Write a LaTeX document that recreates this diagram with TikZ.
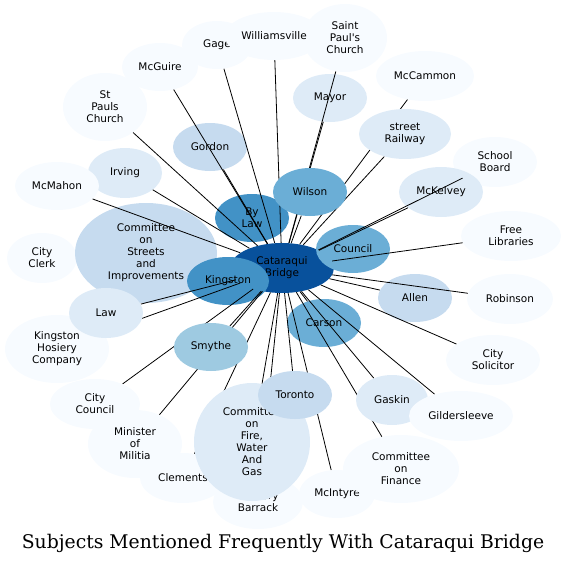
\documentclass[tikz,border=0pt]{standalone}
\usepackage{fontspec}
\setmainfont{DejaVu Serif}
\newfontfamily\labelfont{DejaVu Sans}
\usetikzlibrary{shapes.geometric}
\definecolor{blue1}{HTML}{F7FBFF}
\definecolor{blue2}{HTML}{DEEBF7}
\definecolor{blue3}{HTML}{C6DBEF}
\definecolor{blue4}{HTML}{9ECAE1}
\definecolor{blue5}{HTML}{6BAED6}
\definecolor{blue6}{HTML}{4292C6}
\definecolor{blue7}{HTML}{08519C}
\pgfdeclarelayer{edgelow}
\pgfdeclarelayer{nodelow}
\pgfdeclarelayer{nodetop}
\pgfsetlayers{edgelow,nodelow,main,nodetop}
\tikzstyle{topic} = [ellipse, inner sep=0pt, align=center, fill=blue1, font=\labelfont\fontsize{10.5}{12}\selectfont, minimum width=74pt, minimum height=48pt]
\tikzstyle{link} = [black, line width=0.8pt]

\begin{document}
\begin{tikzpicture}[x=1pt, y=-1pt]
  \useasboundingbox (0,0) rectangle (566,565);
  \begin{pgfonlayer}{nodelow}
    \node[topic] (cityclerk) at (42,258) [minimum width=70pt, minimum height=50pt] {City\\Clerk};
    \node[topic, fill=blue3] (streets) at (146,253) [minimum width=142pt, minimum height=100pt] {Committee\\on\\Streets\\and\\Improvements};
    \node[topic, fill=blue7] (bridge) at (282,268) [minimum width=104pt, minimum height=50pt] {Cataraqui\\Bridge};
    \node[topic, fill=blue6] (kingston) at (228,281) [minimum width=82pt] {Kingston};
    \node[topic, fill=blue5] (council) at (353,249) {Council};
    \node[topic, fill=blue6] (bylaw) at (252,218) {By\\Law};
    \node[topic, fill=blue2] (mayor) at (330,98) {Mayor};
    \node[topic] (schoolboard) at (495,162) [minimum width=84pt, minimum height=50pt] {School\\Board};
    \node[topic, fill=blue2] (mckelvey) at (441,192) [minimum width=84pt, minimum height=50pt] {McKelvey};
    \node[topic, fill=blue3] (gordon) at (210,147) {Gordon};
    \node[topic, fill=blue5] (carson) at (324,323) {Carson};
    \node[topic, fill=blue3] (allen) at (415,298) {Allen};
    \node[topic, fill=blue2] (irving) at (125,173) [minimum height=50pt] {Irving};
    \node[topic] (mcmahon) at (57,186) [minimum width=84pt] {McMahon};
    \node[topic] (stpauls) at (105,107) [minimum width=84pt, minimum height=68pt] {St\\Pauls\\Church};
    \node[topic] (mcguire) at (160,67) [minimum width=76pt] {McGuire};
    \node[topic] (gage) at (217,45) [minimum width=70pt] {Gage};
    \node[topic] (saintpauls) at (345,38) [minimum width=84pt, minimum height=68pt] {Saint\\Paul's\\Church};
    \node[topic] (williamsville) at (274,36) [minimum width=98pt] {Williamsville};
    \node[topic] (mccammon) at (425,76) [minimum width=98pt, minimum height=50pt] {McCammon};
    \node[topic] (libraries) at (511,236) [minimum width=100pt, minimum height=50pt] {Free\\Libraries};
    \node[topic] (robinson) at (510,299) [minimum width=86pt, minimum height=50pt] {Robinson};
    \node[topic] (solicitor) at (493,360) [minimum width=94pt, minimum height=50pt] {City\\Solicitor};
  \end{pgfonlayer}
  \begin{pgfonlayer}{nodetop}
    \node[topic, fill=blue5] (wilson) at (310,192) {Wilson};
    \node[topic, fill=blue2] (railway) at (405,134) [minimum width=92pt, minimum height=50pt] {street\\Railway};
    \node[topic, fill=blue4] (smythe) at (211,347) {Smythe};
    \node[topic] (hosiery) at (57,349) [minimum width=104pt, minimum height=68pt] {Kingston\\Hosiery\\Company};
    \node[topic, fill=blue2] (law) at (106,313) [minimum height=50pt] {Law};
    \node[topic] (citycouncil) at (95,404) [minimum width=90pt, minimum height=50pt] {City\\Council};
    \node[topic] (militia) at (135,444) [minimum width=94pt, minimum height=68pt] {Minister\\of\\Militia};
    \node[topic] (clements) at (183,478) [minimum width=86pt, minimum height=50pt] {Clements};
    \node[topic] (barrack) at (258,502) [minimum width=90pt, minimum height=54pt] {Artillery\\Barrack};
    \node[topic, fill=blue2] (fire) at (252,442) [minimum width=116pt, minimum height=118pt] {Committee\\on\\Fire,\\Water\\And\\Gas};
    \node[topic, fill=blue3] (toronto) at (295,395) {Toronto};
    \node[topic] (mcintyre) at (337,494) [minimum width=76pt] {McIntyre};
    \node[topic] (finance) at (401,469) [minimum width=116pt, minimum height=68pt] {Committee\\on\\Finance};
    \node[topic, fill=blue2] (gaskin) at (392,400) [minimum width=72pt, minimum height=50pt] {Gaskin};
    \node[topic] (gildersleeve) at (461,416) [minimum width=104pt, minimum height=50pt] {Gildersleeve};
  \end{pgfonlayer}
  % links hidden under the streets committee
  \begin{pgfonlayer}{edgelow}
    \foreach \n in {cityclerk, streets}
      \draw[link] (bridge) -- (\n);
  \end{pgfonlayer}
  \foreach \n in {bylaw, wilson, carson, smythe, gordon, toronto, allen, mayor, railway, irving,
                  mckelvey, law, gaskin, fire, gage, williamsville, saintpauls, mcguire, stpauls,
                  mcmahon, hosiery, citycouncil, militia, clements, barrack, mcintyre, finance,
                  gildersleeve, solicitor, robinson, libraries, schoolboard, mccammon}
    \draw[link] (bridge) -- (\n);
  \node[font=\fontsize{18.8}{22}\selectfont] (title) at (283,543) {Subjects Mentioned Frequently With Cataraqui Bridge};
\end{tikzpicture}
\end{document}
